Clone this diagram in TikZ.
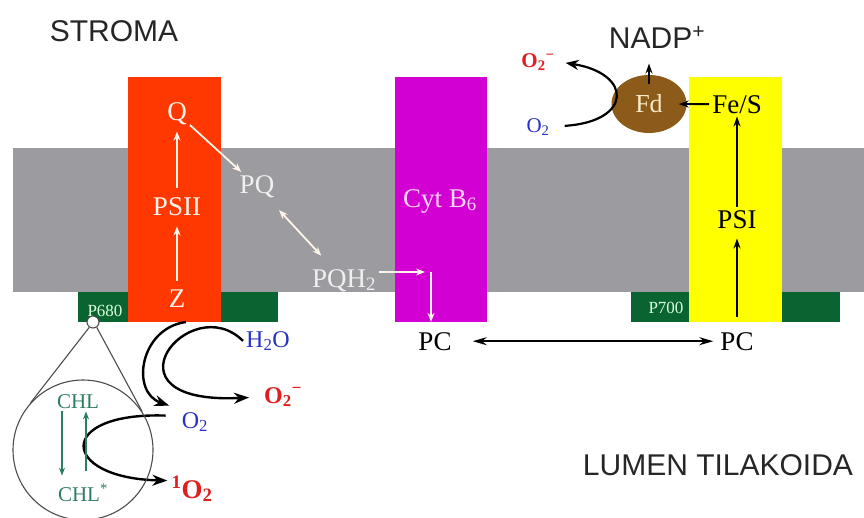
\documentclass[tikz,border=0pt]{standalone}
\usepackage{fontspec}
\setmainfont{Liberation Serif}
\setsansfont{Liberation Sans}
\usetikzlibrary{arrows.meta,shapes.geometric}

\definecolor{membrana}{RGB}{155,155,160}
\definecolor{verde}{RGB}{10,100,50}
\definecolor{psiired}{RGB}{255,55,0}
\definecolor{cytmag}{RGB}{210,0,210}
\definecolor{psiyel}{RGB}{255,255,0}
\definecolor{fdbrown}{RGB}{140,90,25}
\definecolor{oxblue}{RGB}{40,50,200}
\definecolor{oxred}{RGB}{225,30,30}
\definecolor{chlgreen}{RGB}{45,125,95}

\tikzset{
	lbl/.style={font=\fontsize{27}{30}\selectfont, anchor=base, inner sep=3pt},
	sanslbl/.style={font=\sffamily\fontsize{30}{34}\selectfont, anchor=base, text=black!85},
	chem/.style={font=\fontsize{24}{28}\selectfont, anchor=base, inner sep=3pt},
	radical/.style={chem, font=\bfseries\fontsize{24}{28}\selectfont, text=oxred},
	pigment/.style={font=\fontsize{17}{20}\selectfont, anchor=base, text=green!15!white, inner sep=2pt},
	wharrow/.style={draw=white!92!orange, line width=1.8pt, -{Stealth[length=9pt,width=7pt]}},
	bkarrow/.style={draw=black, line width=1.8pt, -{Stealth[length=10pt,width=7pt]}},
	curvarrow/.style={draw=black, line width=2.4pt, -{Stealth[length=15pt,width=11pt]}},
	chlarrow/.style={draw=chlgreen, line width=1.5pt, -{Stealth[length=8pt,width=6pt]}},
	lensline/.style={draw=black!70, line width=1.1pt}
}

\begin{document}
\begin{tikzpicture}[x=1pt, y=-1pt]
	\useasboundingbox (0,0) rectangle (864,517);

	% membrane and complexes
	\fill[membrana] (13,148) rectangle (864,292);
	\fill[verde] (78,292) rectangle (278,322);
	\fill[verde] (631,292) rectangle (840,322);
	\fill[psiired] (128,77) rectangle (221,322);
	\fill[cytmag] (395,77) rectangle (487,322);
	\fill[psiyel] (689,77) rectangle (782,322);

	\node[sanslbl] (stroma) at (114,41) {STROMA};
	\node[sanslbl] (lumen) at (718,475) {LUMEN TILAKOIDA};

	% PSII
	\node[lbl, text=white!92!orange] (q) at (177,120) {Q};
	\node[lbl, text=white!92!orange] (psii) at (177,215) {PSII};
	\node[lbl, text=white!92!orange] (z) at (177,307) {Z};
	\node[pigment] (p680) at (105,316) {P680};
	\draw[wharrow, shorten <=5pt, shorten >=8pt] (z) -- (psii);
	\draw[wharrow, shorten <=6pt, shorten >=4pt] (psii) -- (q);

	% plastoquinone
	\node[lbl, text=white!94!black] (pq) at (257,193) {PQ};
	\node[lbl, text=white!94!black] (pqh) at (344,287) {PQH\textsubscript{2}};
	\draw[wharrow] (q) -- (pq);
	\draw[wharrow, {Stealth[length=9pt,width=7pt]}-{Stealth[length=9pt,width=7pt]}, shorten <=13pt, shorten >=14pt] (pq) -- (pqh);

	% cytochrome
	\node[lbl, text={rgb,255:red,255;green,215;blue,255}] (cyt) at (440,207) {Cyt B\textsubscript{6}};
	\node[lbl] (pcl) at (435,350) {PC};
	\node[lbl] (pcr) at (737,350) {PC};
	\coordinate (bend) at (431,272);
	\draw[wharrow, shorten >=6pt] (pqh.east |- bend) -- (bend);
	\draw[wharrow, shorten >=7pt] (bend) -- (bend |- pcl.north);
	\draw[bkarrow, {Stealth[length=14pt,width=8pt]}-{Stealth[length=14pt,width=8pt]}, shorten <=18pt, shorten >=4pt] (pcl) -- (pcr);

	% PSI
	\node[lbl] (psi) at (737,228) {PSI};
	\node[lbl] (fes) at (737,113) {Fe/S};
	\node[pigment] (p700) at (666,313) {P700};
	\node[ellipse, fill=fdbrown, minimum width=75pt, minimum height=58pt, inner sep=0pt,
		font=\fontsize{26}{30}\selectfont, text={rgb,255:red,250;green,235;blue,200}] (fd) at (649,104) {Fd};
	\node[sanslbl] (nadp) at (657,48) {NADP\textsuperscript{+}};
	\draw[bkarrow, shorten <=12pt, shorten >=7pt] (pcr) -- (psi);
	\draw[bkarrow] (psi) -- (fes);
	\draw[bkarrow, shorten >=-8pt] (fes) -- (fd);
	\draw[bkarrow, line width=1.5pt, shorten >=12pt] ([yshift=-9pt]fd.north) -- (fd.north |- nadp.south);

	% oxygen near Fd
	\node[radical, font=\bfseries\fontsize{21}{24}\selectfont] (o2rt) at (538,67) {O\textsubscript{2}\textsuperscript{−}};
	\node[chem, font=\fontsize{21}{24}\selectfont, text=oxblue] (o2bt) at (538,132) {O\textsubscript{2}};
	\draw[curvarrow, line width=2.2pt, -{Stealth[length=13pt,width=10pt]}, shorten <=12pt, shorten >=8pt]
		(o2bt.east) .. controls +(80,-5) and +(75,12) .. (o2rt.east);

	% oxygen near PSII
	\node[chem, text=oxblue] (h2o) at (268,347) {H\textsubscript{2}O};
	\node[radical] (o2m) at (283,403) {O\textsubscript{2}\textsuperscript{−}};
	\node[chem, text=oxblue] (o2b) at (195,428) {O\textsubscript{2}};
	\node[radical, font=\bfseries\fontsize{27}{30}\selectfont] (so) at (192,498) {\textsuperscript{1}O\textsubscript{2}};
	\coordinate (fork) at (186,322);
	\draw[curvarrow, shorten >=12pt] (h2o.west) .. controls (190,288) and (95,405) .. (o2m.west);
	\draw[curvarrow, shorten >=10pt] (fork) .. controls (140,328) and (130,392) .. (o2b.north west);
	\draw[curvarrow, shorten <=13pt, shorten >=1pt] (o2b.160) .. controls (55,412) and (60,478) .. (so.160);

	% chlorophyll lens
	\node[circle, draw=black!70, line width=1.1pt, minimum size=140pt, inner sep=0pt] (lens) at (83,450) {};
	\node[circle, draw=black!70, fill=white, line width=1.1pt, minimum size=12pt, inner sep=0pt] (p680c) at (93,322) {};
	\draw[lensline] (p680c.235) -- (lens.138);
	\draw[lensline] (p680c.305) -- (lens.33);
	\node[chem, font=\fontsize{21}{24}\selectfont, text=chlgreen] (chl) at (78,408) {CHL};
	\node[chem, font=\fontsize{21}{24}\selectfont, text=chlgreen] (chlx) at (83,501) {CHL\textsuperscript{*}};
	\draw[chlarrow, shorten >=5pt] ([xshift=-16pt]chl.south) -- ([xshift=-16pt]chl.south |- chlx.north);
	\draw[chlarrow, shorten <=10pt] ([xshift=8pt]chl.south |- chlx.north) -- ([xshift=8pt]chl.south);
\end{tikzpicture}
\end{document}
